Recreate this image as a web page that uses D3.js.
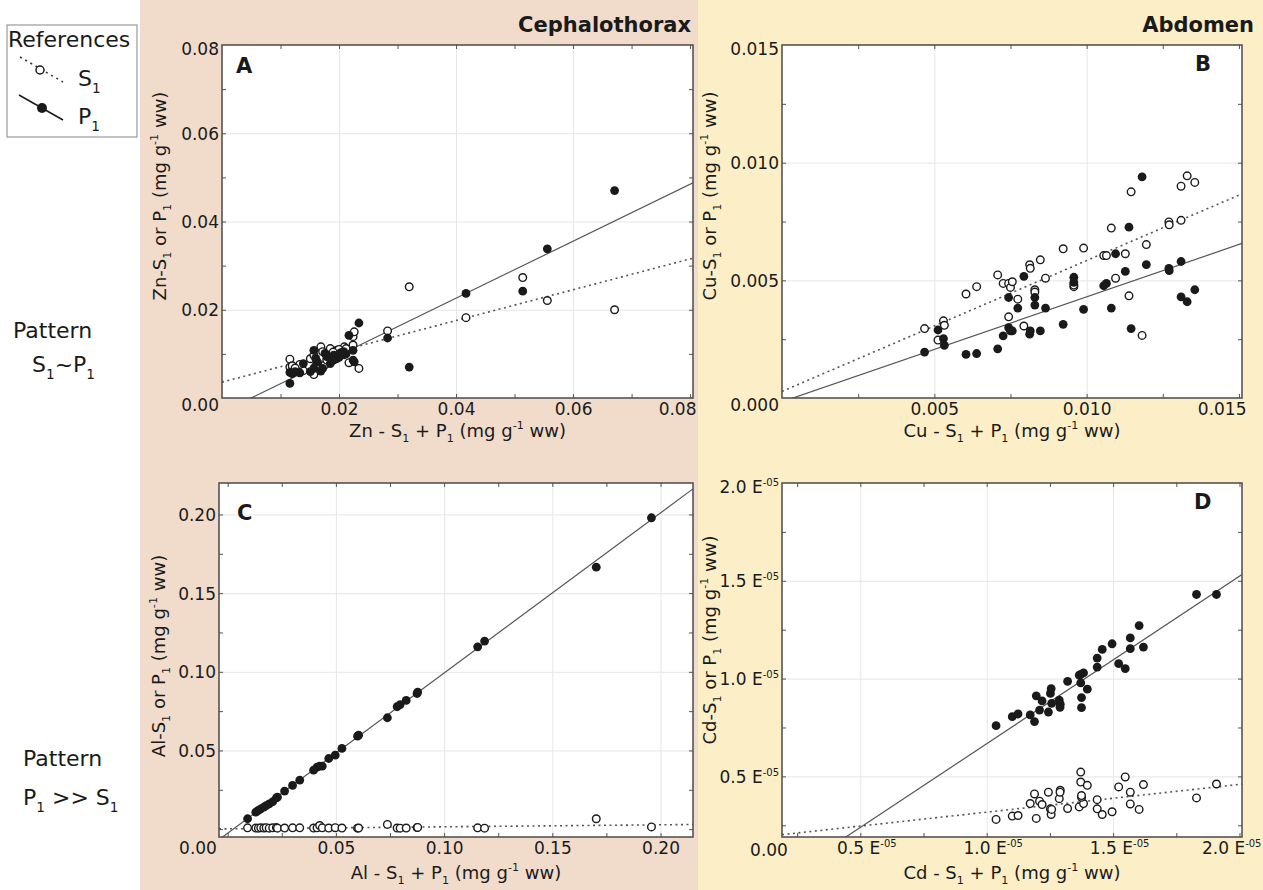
<!DOCTYPE html>
<html>
<head>
<meta charset="utf-8">
<script src="https://cdn.jsdelivr.net/npm/d3@7"></script>
<style>
  body { margin: 0; background: #fff; }
  svg { display: block; font-family: "DejaVu Sans", Verdana, sans-serif; }
</style>
</head>
<body>
<svg id="chart" width="1263" height="890"></svg>
<script>
// ---- A : Zn, cephalothorax (mg g-1 ww) ----
var znTotal = [0.0116, 0.0116, 0.0120, 0.0139, 0.0151, 0.0157, 0.0157, 0.0163, 0.0169, 0.0176, 0.0179, 0.0185,
  0.0191, 0.0196, 0.0203, 0.0208, 0.0209, 0.0217, 0.0224, 0.0224, 0.0226, 0.0234, 0.0283, 0.0320, 0.0417,
  0.0514, 0.0556, 0.0671, 0.0133, 0.0172, 0.0200, 0.0212, 0.0160, 0.0190, 0.0125];
var znP1 = [0.0033, 0.0058, 0.0055, 0.0078, 0.0060, 0.0108, 0.0067, 0.0082, 0.0061, 0.0101, 0.0094, 0.0078,
  0.0097, 0.0089, 0.0103, 0.0105, 0.0098, 0.0142, 0.0108, 0.0086, 0.0082, 0.0170, 0.0136, 0.0070, 0.0237,
  0.0242, 0.0338, 0.0470, 0.0057, 0.0067, 0.0092, 0.0100, 0.0090, 0.0085, 0.0060];
var znS1 = [0.0088, 0.0070, 0.0073, 0.0062, 0.0089, 0.0053, 0.0097, 0.0080, 0.0116, 0.0075, 0.0086, 0.0112,
  0.0094, 0.0108, 0.0100, 0.0103, 0.0116, 0.0080, 0.0120, 0.0139, 0.0150, 0.0067, 0.0152, 0.0252, 0.0182,
  0.0273, 0.0221, 0.0200, 0.0076, 0.0105, 0.0110, 0.0112, 0.0072, 0.0104, 0.0068];
var znFit = { p1: [0.646, -0.00323], s1: [0.349, 0.0036] }; // slope, intercept

// ---- B : Cu, abdomen ----
var cuTotal = [0.00468, 0.00512, 0.00530, 0.00533, 0.00604, 0.00639, 0.00708, 0.00726, 0.00744, 0.00744,
  0.00750, 0.00756, 0.00774, 0.00794, 0.00813, 0.00815, 0.00830, 0.00830, 0.00848, 0.00865, 0.00923, 0.00958,
  0.00958, 0.00990, 0.01056, 0.01065, 0.01081, 0.01095, 0.01127, 0.01139, 0.01146, 0.01182, 0.01196, 0.01270,
  0.01271, 0.01310, 0.01310, 0.01330, 0.01355];
var cuP1 = [0.00195, 0.00289, 0.00252, 0.00224, 0.00185, 0.00189, 0.00209, 0.00264, 0.00427, 0.00299,
  0.00285, 0.00285, 0.00382, 0.00517, 0.00271, 0.00285, 0.00427, 0.00395, 0.00285, 0.00382, 0.00313, 0.00513,
  0.00491, 0.00377, 0.00477, 0.00487, 0.00382, 0.00613, 0.00538, 0.00726, 0.00295, 0.00940, 0.00567, 0.00551,
  0.00541, 0.00580, 0.00430, 0.00409, 0.00460];
var cuS1 = [0.00295, 0.00246, 0.00328, 0.00309, 0.00442, 0.00473, 0.00523, 0.00487, 0.00345, 0.00487,
  0.00470, 0.00494, 0.00420, 0.00306, 0.00566, 0.00551, 0.00460, 0.00450, 0.00587, 0.00509, 0.00634, 0.00473,
  0.00480, 0.00637, 0.00605, 0.00605, 0.00722, 0.00509, 0.00613, 0.00434, 0.00876, 0.00266, 0.00652, 0.00748,
  0.00736, 0.00755, 0.00900, 0.00944, 0.00916];
var cuFit = { p1: [0.4456, -0.00016], s1: [0.556, 0.00028] };

// ---- C : Al, cephalothorax ----
var alTotal = [0.0092, 0.0130, 0.0142, 0.0153, 0.0167, 0.0178, 0.0192, 0.0208, 0.0225, 0.0230, 0.0263, 0.0300,
  0.0333, 0.0397, 0.0413, 0.0425, 0.0437, 0.0467, 0.0497, 0.0528, 0.0600, 0.0605, 0.0738, 0.0783, 0.0797,
  0.0825, 0.0875, 0.0878, 0.1155, 0.1187, 0.1703, 0.1958];
var alP1 = [0.0066, 0.0108, 0.0119, 0.0129, 0.0140, 0.0150, 0.0161, 0.0174, 0.0199, 0.0203, 0.0242, 0.0278,
  0.0311, 0.0375, 0.0394, 0.0400, 0.0400, 0.0449, 0.0470, 0.0513, 0.0591, 0.0597, 0.0708, 0.0778, 0.0792,
  0.0818, 0.0862, 0.0871, 0.1159, 0.1195, 0.1665, 0.1979];
var alS1 = [0.0008, 0.0007, 0.0006, 0.0008, 0.0007, 0.0009, 0.0006, 0.0008, 0.0010, 0.0006, 0.0007, 0.0008,
  0.0008, 0.0007, 0.0008, 0.0023, 0.0008, 0.0007, 0.0009, 0.0007, 0.0006, 0.0007, 0.0030, 0.0007, 0.0006,
  0.0007, 0.0010, 0.0011, 0.0008, 0.0006, 0.0066, 0.0014];
var alFit = { p1: [1.018, -0.0026], s1: [0.0128, 0.0002] };

// ---- D : Cd, abdomen (x 1e-5 mg g-1 ww) ----
var cdTotal = [1.037, 1.101, 1.124, 1.172, 1.189, 1.196, 1.209, 1.219, 1.244, 1.252, 1.255, 1.257, 1.287,
  1.291, 1.290, 1.320, 1.366, 1.372, 1.383, 1.372, 1.375, 1.375, 1.398, 1.437, 1.437, 1.457, 1.496, 1.522,
  1.548, 1.568, 1.568, 1.603, 1.620, 1.830, 1.909];
var cdP1 = [0.759, 0.805, 0.819, 0.814, 0.780, 0.912, 0.839, 0.886, 0.829, 0.924, 0.949, 0.873, 0.890,
  0.869, 0.853, 0.986, 1.017, 1.022, 1.029, 0.978, 0.903, 0.851, 0.946, 1.059, 1.105, 1.149, 1.178, 1.076,
  1.051, 1.153, 1.208, 1.271, 1.161, 1.430, 1.430];
var cdS1 = [0.280, 0.297, 0.300, 0.361, 0.410, 0.285, 0.373, 0.356, 0.419, 0.334, 0.305, 0.331, 0.386,
  0.429, 0.419, 0.336, 0.344, 0.522, 0.361, 0.471, 0.393, 0.402, 0.454, 0.381, 0.334, 0.305, 0.319, 0.446,
  0.497, 0.359, 0.419, 0.331, 0.458, 0.390, 0.461];
var cdFit = { p1: [0.856, -0.189], s1: [0.142, 0.175] };

// tick values
var znTicksX = [0.02, 0.04, 0.06, 0.08], znTicksY = [0, 0.02, 0.04, 0.06, 0.08];
var cuTicksX = [0.005, 0.010, 0.015], cuTicksY = [0, 0.005, 0.010, 0.015];
var alTicks = [0.05, 0.10, 0.15, 0.20];
var cdTicks = [0.5, 1.0, 1.5, 2.0];

var svg = d3.select("#chart");
var INK = "#1a1a1a";

// backgrounds
svg.append("rect").attr("x", 140).attr("y", 0).attr("width", 558).attr("height", 890).attr("fill", "#f1dccc");
svg.append("rect").attr("x", 698).attr("y", 0).attr("width", 565).attr("height", 890).attr("fill", "#fcefc8");

// text with sub/superscripts: parts = [[str, "sub"|"sup"|""], ...]
function rich (text, parts, size) {
  var shift = 0;
  parts.forEach(function (p) {
    var target = p[1] === "sub" ? size * 0.3 : p[1] === "sup" ? -size * 0.42 : 0;
    text.append("tspan").attr("dy", target - shift).attr("font-size", p[1] ? size * 0.62 : size).text(p[0]);
    shift = target;
  });
  return text;
}

function unit () { return [[" (mg g", ""], ["-1", "sup"], [" ww)", ""]]; }

function drawPanel (p) {
  var b = p.box; // left, top, right, bottom
  var x = d3.scaleLinear().domain(p.xDomain).range([b[0], b[2]]);
  var y = d3.scaleLinear().domain(p.yDomain).range([b[3], b[1]]);
  var g = svg.append("g");

  svg.append("clipPath").attr("id", "clip" + p.letter)
    .append("rect").attr("x", b[0]).attr("y", b[1]).attr("width", b[2] - b[0]).attr("height", b[3] - b[1]);

  g.append("rect").attr("x", b[0]).attr("y", b[1]).attr("width", b[2] - b[0]).attr("height", b[3] - b[1]).attr("fill", "#fff");

  // grid at major ticks
  g.append("g").attr("transform", "translate(0," + b[3] + ")")
    .call(d3.axisBottom(x).tickValues(p.xGrid).tickSize(-(b[3] - b[1])).tickFormat(""))
    .call(a => a.select(".domain").remove())
    .selectAll("line").attr("stroke", "#e6e6e6");
  g.append("g").attr("transform", "translate(" + b[0] + ",0)")
    .call(d3.axisLeft(y).tickValues(p.yGrid).tickSize(-(b[2] - b[0])).tickFormat(""))
    .call(a => a.select(".domain").remove())
    .selectAll("line").attr("stroke", "#e6e6e6");

  // small inward ticks on all four sides
  var mx = d3.range(p.xDomain[0] - 1e-9, p.xDomain[1], p.minor[0]).map(v => Math.ceil(v / p.minor[0] - 1e-6) * p.minor[0]).filter(v => v > p.xDomain[0] && v < p.xDomain[1]);
  var my = d3.range(p.yDomain[0] - 1e-9, p.yDomain[1], p.minor[1]).map(v => Math.ceil(v / p.minor[1] - 1e-6) * p.minor[1]).filter(v => v > p.yDomain[0] && v < p.yDomain[1]);
  [[d3.axisBottom(x), b[3], mx], [d3.axisTop(x), b[1], mx]].forEach(function (d) {
    g.append("g").attr("transform", "translate(0," + d[1] + ")")
      .call(d[0].tickValues(d[2]).tickSize(-4).tickFormat(""))
      .call(a => a.select(".domain").remove())
      .selectAll("line").attr("stroke", "#555");
  });
  [[d3.axisLeft(y), b[0], my], [d3.axisRight(y), b[2], my]].forEach(function (d) {
    g.append("g").attr("transform", "translate(" + d[1] + ",0)")
      .call(d[0].tickValues(d[2]).tickSize(-4).tickFormat(""))
      .call(a => a.select(".domain").remove())
      .selectAll("line").attr("stroke", "#555");
  });

  // regression lines
  var lines = g.append("g").attr("clip-path", "url(#clip" + p.letter + ")");
  [["s1", "2,3.5", 1.6], ["p1", null, 1.2]].forEach(function (d) {
    var f = p.fit[d[0]];
    lines.append("line")
      .attr("x1", x(p.xDomain[0])).attr("y1", y(f[0] * p.xDomain[0] + f[1]))
      .attr("x2", x(p.xDomain[1])).attr("y2", y(f[0] * p.xDomain[1] + f[1]))
      .attr("stroke", "#555").attr("stroke-width", d[2]).attr("stroke-dasharray", d[1]);
  });

  // points
  var pts = g.append("g").attr("clip-path", "url(#clip" + p.letter + ")");
  pts.selectAll("circle.s1").data(p.total).join("circle").attr("class", "s1")
    .attr("cx", d => x(d)).attr("cy", (d, i) => y(p.s1[i])).attr("r", 3.8)
    .attr("fill", "#fff").attr("stroke", INK).attr("stroke-width", 1.4);
  pts.selectAll("circle.p1").data(p.total).join("circle").attr("class", "p1")
    .attr("cx", d => x(d)).attr("cy", (d, i) => y(p.p1[i])).attr("r", 4.4)
    .attr("fill", INK);

  // frame
  g.append("rect").attr("x", b[0]).attr("y", b[1]).attr("width", b[2] - b[0]).attr("height", b[3] - b[1])
    .attr("fill", "none").attr("stroke", "#4a4a4a").attr("stroke-width", 1.5);

  // tick labels
  var ya = g.append("g").attr("transform", "translate(" + (b[0] - 1) + ",0)")
    .call(d3.axisLeft(y).tickValues(p.yTicks).tickSize(0).tickPadding(2).tickFormat(p.fmt))
    .call(a => a.select(".domain").remove());
  var xa = g.append("g").attr("transform", "translate(0," + b[3] + ")")
    .call(d3.axisBottom(x).tickValues(p.xTicks).tickSize(0).tickPadding(5).tickFormat(p.fmt))
    .call(a => a.select(".domain").remove());
  [ya, xa].forEach(a => a.selectAll("text").attr("font-size", 17).attr("font-family", "DejaVu Sans, Verdana, sans-serif").attr("fill", INK));
  ya.selectAll("text").attr("dy", d => Math.abs(d) < 1e-12 ? "0.75em" : Math.abs(y(d) - b[1]) < 2 ? "0.55em" : "0.35em");
  if (p.sci) {
    [ya, xa].forEach(function (a, k) {
      a.selectAll("text").each(function (d) {
        var t = d3.select(this).text(d3.format(".1f")(d) + " E");
        t.append("tspan").attr("dy", -7).attr("font-size", 10).text("-05");
        if (k === 1) t.attr("dx", 6);
      });
    });
  }
  // the last x label sits flush with the right edge of the frame
  xa.selectAll("text").filter(d => d === p.xTicks[p.xTicks.length - 1] && p.lastRight)
    .attr("text-anchor", "end").attr("dx", d => p.lastRight - x(d));
  if (p.corner) {
    g.append("text").attr("x", p.corner[0]).attr("y", p.corner[1]).attr("text-anchor", "middle")
      .attr("font-size", 17).attr("fill", INK).text("0.00");
  }

  // axis titles
  rich(g.append("text").attr("x", (b[0] + b[2]) / 2).attr("y", p.xTitleY).attr("text-anchor", "middle").attr("fill", INK),
    [[p.el + " - S", ""], ["1", "sub"], [" + P", ""], ["1", "sub"]].concat(unit()), 18);
  rich(g.append("text").attr("transform", "translate(" + p.yTitle[0] + "," + p.yTitle[1] + ") rotate(-90)")
    .attr("text-anchor", "middle").attr("fill", INK),
    [[p.el + "-S", ""], ["1", "sub"], [" or P", ""], ["1", "sub"]].concat(unit()), 18);

  // panel letter
  g.append("text").attr("x", p.letterPos[0]).attr("y", p.letterPos[1]).attr("font-size", 21)
    .attr("font-weight", "bold").attr("fill", INK).text(p.letter);
}

var fmt2 = d3.format(".2f"), fmt3 = d3.format(".3f");

drawPanel({ letter: "A", el: "Zn", box: [222, 45, 693, 398], xDomain: [0, 0.0805], yDomain: [0, 0.08],
  total: znTotal, p1: znP1, s1: znS1, fit: znFit, xTicks: znTicksX, yTicks: znTicksY, lastRight: 696,
  xGrid: znTicksX.slice(0, 3), yGrid: znTicksY.slice(1, 4), minor: [0.01, 0.01], fmt: fmt2,
  xTitleY: 437, yTitle: [166, 196], letterPos: [236, 73] });

drawPanel({ letter: "B", el: "Cu", box: [782, 45, 1242, 398], xDomain: [0, 0.0151], yDomain: [0, 0.015],
  total: cuTotal, p1: cuP1, s1: cuS1, fit: cuFit, xTicks: cuTicksX, yTicks: cuTicksY, lastRight: 1246,
  xGrid: cuTicksX.slice(0, 2), yGrid: cuTicksY.slice(1, 3), minor: [0.0025, 0.0025], fmt: fmt3,
  xTitleY: 437, yTitle: [716, 196], letterPos: [1195, 71] });

drawPanel({ letter: "C", el: "Al", box: [219, 483, 693, 837], xDomain: [-0.004, 0.215], yDomain: [-0.005, 0.22],
  total: alTotal, p1: alP1, s1: alS1, fit: alFit, xTicks: alTicks, yTicks: alTicks,
  xGrid: alTicks, yGrid: alTicks, minor: [0.025, 0.025], fmt: fmt2, corner: [198, 854],
  xTitleY: 879, yTitle: [165, 656], letterPos: [237, 520] });

drawPanel({ letter: "D", el: "Cd", box: [782, 483, 1242, 837], xDomain: [0.19, 2.01], yDomain: [0.19, 2.0],
  total: cdTotal, p1: cdP1, s1: cdS1, fit: cdFit, xTicks: cdTicks, yTicks: cdTicks, sci: true, lastRight: 1261,
  xGrid: cdTicks.slice(0, 3), yGrid: cdTicks.slice(0, 3), minor: [0.25, 0.25], fmt: d3.format(".1f"), corner: [769, 856],
  xTitleY: 879, yTitle: [716, 640], letterPos: [1194, 509] });

// region titles
svg.append("text").attr("x", 691).attr("y", 32).attr("text-anchor", "end").attr("font-size", 21)
  .attr("font-weight", "bold").attr("fill", INK).text("Cephalothorax");
svg.append("text").attr("x", 1254).attr("y", 32).attr("text-anchor", "end").attr("font-size", 21)
  .attr("font-weight", "bold").attr("fill", INK).text("Abdomen");

// legend
var lg = svg.append("g");
lg.append("rect").attr("x", 7).attr("y", 25).attr("width", 130).attr("height", 112)
  .attr("fill", "#fff").attr("stroke", "#9a9a9a").attr("stroke-width", 1.2);
lg.append("text").attr("x", 8).attr("y", 47).attr("font-size", 22).attr("fill", INK).text("References");
lg.append("line").attr("x1", 20).attr("y1", 57).attr("x2", 63).attr("y2", 82)
  .attr("stroke", "#333").attr("stroke-width", 1.6).attr("stroke-dasharray", "2,4");
lg.append("circle").attr("cx", 40).attr("cy", 70).attr("r", 4).attr("fill", "#fff").attr("stroke", INK).attr("stroke-width", 1.5);
lg.append("line").attr("x1", 19).attr("y1", 95).attr("x2", 63).attr("y2", 120).attr("stroke", INK).attr("stroke-width", 1.5);
lg.append("circle").attr("cx", 42).attr("cy", 108).attr("r", 5).attr("fill", INK);
rich(lg.append("text").attr("x", 78).attr("y", 86).attr("fill", INK), [["S", ""], ["1", "sub"]], 22);
rich(lg.append("text").attr("x", 78).attr("y", 124).attr("fill", INK), [["P", ""], ["1", "sub"]], 22);

// pattern labels
svg.append("text").attr("x", 13).attr("y", 338).attr("font-size", 22).attr("fill", INK).text("Pattern");
rich(svg.append("text").attr("x", 32).attr("y", 372).attr("fill", INK),
  [["S", ""], ["1", "sub"], ["~P", ""], ["1", "sub"]], 22);
svg.append("text").attr("x", 23).attr("y", 766).attr("font-size", 22).attr("fill", INK).text("Pattern");
rich(svg.append("text").attr("x", 23).attr("y", 805).attr("fill", INK),
  [["P", ""], ["1", "sub"], [" >> S", ""], ["1", "sub"]], 22);
</script>
</body>
</html>
